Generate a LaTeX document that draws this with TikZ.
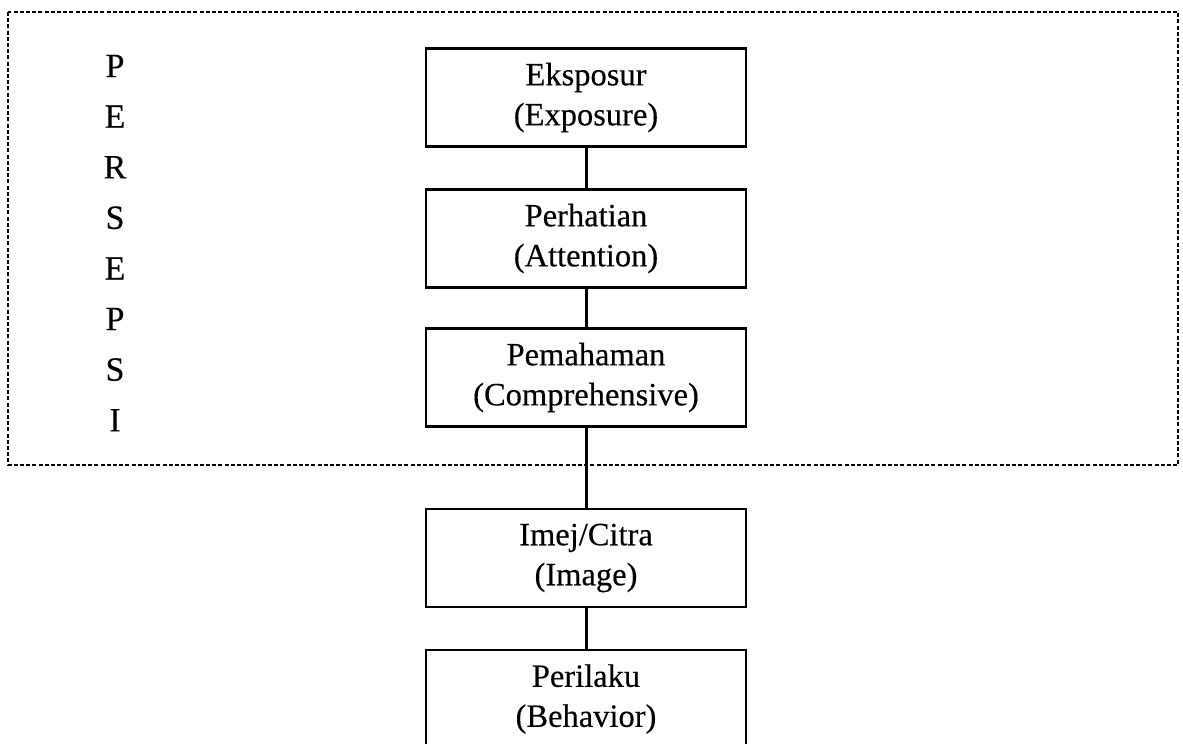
\documentclass[tikz,border=0pt]{standalone}
\usepackage{fontspec}
\setmainfont{Liberation Serif}
\newfontfamily\printfont{Liberation Serif}[FakeBold=0.3]
\begin{document}
\begin{tikzpicture}[x=1pt,y=-1pt,
  stage/.style={draw, line width=2.8pt, minimum width=320pt, minimum height=98pt,
    inner sep=0pt, align=center, font=\printfont\fontsize{32.5}{40}\selectfont},
  letter/.style={font=\printfont\fontsize{34}{34}\selectfont, inner sep=0pt},
  link/.style={line width=3pt},
  frame/.style={line width=2.2pt, dash pattern=on 4pt off 2.2pt}]
\useasboundingbox (0,0) rectangle (1183,744);
\clip (0,0) rectangle (1183,744);

% dashed frame around the perception stages
\draw[frame] (8,12) rectangle (1178,465);

% vertical label
\foreach \ch [count=\i] in {P,E,R,S,E,P,S,I}
  \node[letter] (L\i) at (115,{66+50.6*(\i-1)}) {\ch};

% stages
\node[stage] (exposure) at (586,97.5) {Eksposur\\(Exposure)};
\node[stage] (attention) at (586,238.5) {Perhatian\\(Attention)};
\node[stage] (comprehension) at (586,377.5) {Pemahaman\\(Comprehensive)};
\node[stage] (image) at (586,558) {Imej/Citra\\(Image)};
\node[stage] (behavior) at (586,699) {Perilaku\\(Behavior)};

% connectors
\draw[link] (exposure) -- (attention);
\draw[link] (attention) -- (comprehension);
\draw[link] (comprehension) -- (image);
\draw[link] (image) -- (behavior);
\end{tikzpicture}
\end{document}
